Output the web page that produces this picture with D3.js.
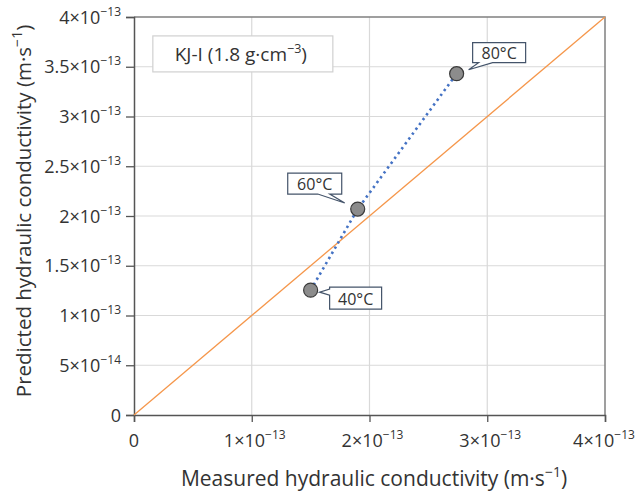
<!DOCTYPE html>
<html>
<head>
<meta charset="utf-8">
<script src="https://cdn.jsdelivr.net/npm/d3@7"></script>
<style>
  body { margin: 0; background: #fff; }
  text { font-family: "Open Sans", "Noto Sans", sans-serif; fill: #333; }
</style>
</head>
<body>
<div id="chart"></div>
<script>
// data
const temps = ["40°C", "60°C", "80°C"];
const measured = [1.5e-13, 1.9e-13, 2.74e-13];
const predicted = [1.255e-13, 2.07e-13, 3.43e-13];
const xTicks = [0, 1e-13, 2e-13, 3e-13, 4e-13];
const xTickLabels = [["0", ""], ["1×10", "−13"], ["2×10", "−13"], ["3×10", "−13"], ["4×10", "−13"]];
const yTicks = [0, 0.5e-13, 1e-13, 1.5e-13, 2e-13, 2.5e-13, 3e-13, 3.5e-13, 4e-13];
const yTickLabels = [["0", ""], ["5×10", "−14"], ["1×10", "−13"], ["1.5×10", "−13"], ["2×10", "−13"],
  ["2.5×10", "−13"], ["3×10", "−13"], ["3.5×10", "−13"], ["4×10", "−13"]];
const oneToOne = [0, 4e-13];

const W = 636, H = 495;
const margin = {top: 17, right: 31, bottom: 80, left: 134};
const width = W - margin.left - margin.right;
const height = H - margin.top - margin.bottom;

const svg = d3.select("#chart").append("svg")
  .attr("width", W).attr("height", H);

const g = svg.append("g")
  .attr("transform", `translate(${margin.left},${margin.top})`);

const x = d3.scaleLinear().domain([0, 4e-13]).range([0, width]);
const y = d3.scaleLinear().domain([0, 4e-13]).range([height, 0]);

// gridlines
g.append("g").selectAll("line").data(xTicks.slice(1, -1)).join("line")
  .attr("x1", d => x(d)).attr("x2", d => x(d))
  .attr("y1", 0).attr("y2", height)
  .attr("stroke", "#d9d9d9").attr("stroke-width", 1.2);
g.append("g").selectAll("line").data(yTicks.slice(1, -1)).join("line")
  .attr("y1", d => y(d)).attr("y2", d => y(d))
  .attr("x1", 0).attr("x2", width)
  .attr("stroke", "#d9d9d9").attr("stroke-width", 1.2);

// top and right frame
g.append("path")
  .attr("d", `M0,0H${width}V${height}`)
  .attr("fill", "none").attr("stroke", "#808080").attr("stroke-width", 1.5);

// axes
const xAxis = g.append("g").attr("transform", `translate(0,${height})`)
  .call(d3.axisBottom(x).tickValues(xTicks).tickSize(7).tickFormat(""));
const yAxis = g.append("g")
  .call(d3.axisLeft(y).tickValues(yTicks).tickSize(8).tickFormat(""));
[xAxis, yAxis].forEach(a => {
  a.select(".domain").attr("stroke", "#555").attr("stroke-width", 1.5);
  a.selectAll(".tick line").attr("stroke", "#555").attr("stroke-width", 1.3);
});

function supLabel(sel, parts) {
  sel.append("tspan").text(parts[0]);
  if (parts[1]) sel.append("tspan").attr("font-size", 12).attr("dy", -8).text(parts[1]);
}

xTicks.forEach((v, i) => {
  const t = g.append("text")
    .attr("x", x(v) + (i === 0 ? 0 : 3)).attr("y", height + 32)
    .attr("text-anchor", "middle").attr("font-size", 18);
  supLabel(t, xTickLabels[i]);
  // keep the last label inside the page
  const bb = t.node().getBBox();
  const over = bb.x + bb.width - (width + margin.right - 1);
  if (over > 0) t.attr("x", +t.attr("x") - over);
});
yTicks.forEach((v, i) => {
  const t = g.append("text")
    .attr("x", -13).attr("y", y(v) + 6.5)
    .attr("text-anchor", "end").attr("font-size", 18);
  supLabel(t, yTickLabels[i]);
});

// 1:1 line
g.append("line")
  .attr("x1", x(oneToOne[0])).attr("y1", y(oneToOne[0]))
  .attr("x2", x(oneToOne[1])).attr("y2", y(oneToOne[1]))
  .attr("stroke", "#f5964a").attr("stroke-width", 1.3);

const pts = temps.map((t, i) => ({t, mx: measured[i], py: predicted[i]}));

// dotted connector
g.append("path")
  .datum(pts)
  .attr("d", d3.line().x(d => x(d.mx)).y(d => y(d.py)))
  .attr("fill", "none").attr("stroke", "#4472c4")
  .attr("stroke-width", 2.6).attr("stroke-dasharray", "2.4,3.6");

g.selectAll("circle.pt").data(pts).join("circle")
  .attr("class", "pt")
  .attr("cx", d => x(d.mx)).attr("cy", d => y(d.py)).attr("r", 7)
  .attr("fill", "#8c8c8c").attr("stroke", "#3a3a3a").attr("stroke-width", 1.2);

// callouts: box offset from point, tail side and wedge
const callouts = [
  {bx: 19, by: -3, w: 52, h: 22, side: "left", a: 2, b: 8, tx: 9, ty: 2},
  {bx: -70, by: -36, w: 54, h: 21, side: "bottom", a: 30, b: 42, tx: -13, ty: -6},
  {bx: 16, by: -31, w: 53, h: 20, side: "bottom", a: 6, b: 20, tx: 12, ty: -4}
];
pts.forEach((p, i) => {
  const c = callouts[i];
  const px = x(p.mx), py = y(p.py);
  const X0 = px + c.bx, Y0 = py + c.by, X1 = X0 + c.w, Y1 = Y0 + c.h;
  const tx = px + c.tx, ty = py + c.ty;
  let d;
  if (c.side === "left") {
    d = `M${X0},${Y0}H${X1}V${Y1}H${X0}V${Y0 + c.b}L${tx},${ty}L${X0},${Y0 + c.a}Z`;
  } else {
    d = `M${X0},${Y0}H${X1}V${Y1}H${X0 + c.b}L${tx},${ty}L${X0 + c.a},${Y1}H${X0}Z`;
  }
  g.append("path").attr("d", d)
    .attr("fill", "#fff").attr("stroke", "#44546a").attr("stroke-width", 1.2);
  g.append("text")
    .attr("x", (X0 + X1) / 2).attr("y", Y1 - 4)
    .attr("text-anchor", "middle").attr("font-size", 16)
    .text(p.t);
});

// sample box
const lb = g.append("g").attr("transform", `translate(${x(0.16e-13)},${y(3.81e-13)})`);
lb.append("rect").attr("width", 180).attr("height", 36)
  .attr("fill", "#fff").attr("stroke", "#d0d0d0").attr("stroke-width", 1.2);
const lt = lb.append("text").attr("x", 88).attr("y", 25)
  .attr("text-anchor", "middle").attr("font-size", 19);
lt.append("tspan").text("KJ-I (1.8 g·cm");
lt.append("tspan").attr("font-size", 12.5).attr("dy", -8).text("−3");
lt.append("tspan").attr("dy", 8).text(")");

// axis titles
const xt = svg.append("text")
  .attr("x", 374).attr("y", 486)
  .attr("text-anchor", "middle").attr("font-size", 21);
xt.append("tspan").text("Measured hydraulic conductivity (m·s");
xt.append("tspan").attr("font-size", 14).attr("dy", -9).text("−1");
xt.append("tspan").attr("dy", 9).text(")");

const yt = svg.append("text")
  .attr("transform", "translate(31,211) rotate(-90)")
  .attr("text-anchor", "middle").attr("font-size", 20.5);
yt.append("tspan").text("Predicted hydraulic conductivity (m·s");
yt.append("tspan").attr("font-size", 14).attr("dy", -9).text("−1");
yt.append("tspan").attr("dy", 9).text(")");
</script>
</body>
</html>
